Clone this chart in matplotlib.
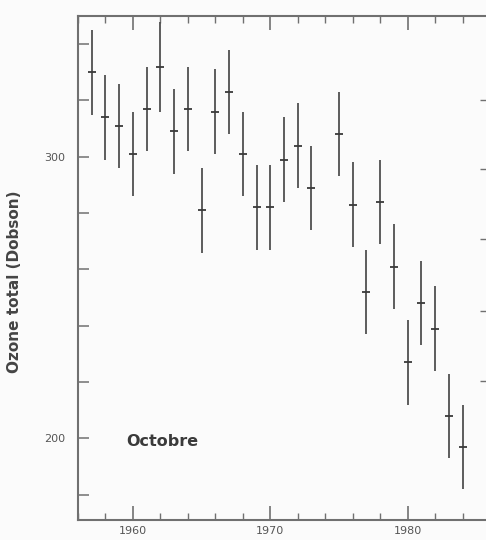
import matplotlib
matplotlib.use("Agg")
import matplotlib.pyplot as plt
from matplotlib.ticker import MultipleLocator, FuncFormatter

# données (ozone total d'octobre, Dobson)
annees = [1957, 1958, 1959, 1960, 1961, 1962, 1963, 1964, 1965, 1966, 1967,
          1968, 1969, 1970, 1971, 1972, 1973, 1975, 1976, 1977, 1978, 1979,
          1980, 1981, 1982, 1983, 1984]
ozone = [330, 314, 311, 301, 317, 332, 309, 317, 281, 316, 323,
         301, 282, 282, 299, 304, 289, 308, 283, 252, 284, 261,
         227, 248, 239, 208, 197]
erreur = [15, 15, 15, 15, 15, 16, 15, 15, 15, 15, 15,
          15, 15, 15, 15, 15, 15, 15, 15, 15, 15, 15,
          15, 15, 15, 15, 15]
graduations_droite = [220.5, 245.2, 270.8, 295.6, 320.3]

fig = plt.figure(figsize=(4.86, 5.40), dpi=100, facecolor="#fbfbfb")
ax = fig.add_axes([78/486, 20/540, 412/486, 504/540])
ax.set_facecolor("#fbfbfb")

ax.errorbar(annees, ozone, yerr=erreur, fmt="_", color="#3a3a3a",
            ecolor="#505050", elinewidth=1.3, markersize=6, mew=1.3, capsize=0)

ax.set_xlim(1956, 1986)
ax.set_ylim(171, 350)

ax.xaxis.set_major_locator(MultipleLocator(10))
ax.xaxis.set_minor_locator(MultipleLocator(2))
ax.yaxis.set_major_locator(MultipleLocator(20))
ax.yaxis.set_major_formatter(FuncFormatter(lambda v, p: "%d" % v if v in (200, 300) else ""))

ax.tick_params(axis="x", which="major", direction="in", length=10, width=1.2,
               top=True, colors="#707070", labelcolor="#555555", labelsize=8, pad=4)
ax.tick_params(axis="x", which="minor", direction="in", length=5, width=1.0,
               top=True, colors="#707070")
ax.tick_params(axis="y", which="major", direction="in", length=8, width=1.1,
               colors="#707070", labelcolor="#555555", labelsize=8, pad=9)

for side in ["left", "bottom", "top"]:
    ax.spines[side].set_color("#707070")
    ax.spines[side].set_linewidth(1.5)
ax.spines["right"].set_visible(False)

# graduations d'un axe de droite coupé
ax2 = ax.twinx()
ax2.set_ylim(171, 350)
ax2.set_yticks(graduations_droite)
ax2.set_yticklabels([])
ax2.tick_params(axis="y", direction="in", length=7, width=1.0, colors="#707070")
for s in ax2.spines.values():
    s.set_visible(False)

ax.set_ylabel("Ozone total (Dobson)", fontsize=11, fontweight="bold",
              color="#444444")
ax.yaxis.set_label_coords(-0.136, 0.472)
ax.text(1959.5, 199, "Octobre", fontsize=11.5, fontweight="bold",
        color="#3a3a3a", va="center", ha="left")

fig.savefig("out.png", dpi=100, facecolor=fig.get_facecolor())
